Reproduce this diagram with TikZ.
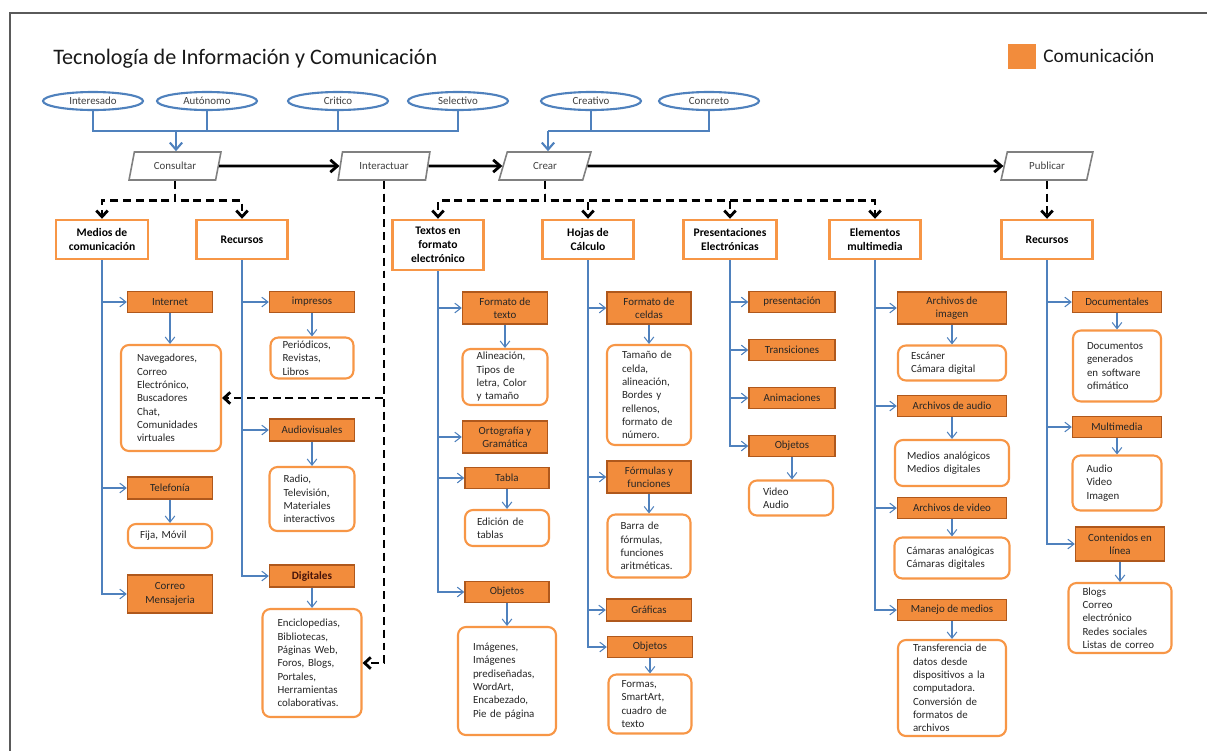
\documentclass[tikz,border=0pt]{standalone}
\usepackage{fontspec}
\setmainfont{Carlito}
\usetikzlibrary{arrows.meta,shapes.geometric}
\definecolor{bl}{RGB}{79,129,189}
\definecolor{orL}{RGB}{247,150,70}
\definecolor{orF}{RGB}{242,140,60}
\definecolor{orD}{RGB}{175,88,28}
\definecolor{frm}{RGB}{90,90,90}
\begin{document}
\begin{tikzpicture}[x=0.02cm,y=-0.02cm,
  sm/.style={font=\fontsize{6.2}{7.6}\selectfont},
  wh/.style 2 args={minimum width=#1*0.02cm, minimum height=#2*0.02cm},
  tw/.style={text width=#1*0.02cm},
  ell/.style={ellipse, draw=bl, line width=1.2pt, fill=white, wh={100}{18}, inner sep=0pt, sm, text=black!75},
  para/.style={trapezium, trapezium left angle=70, trapezium right angle=110, trapezium stretches=true, draw=gray, line width=0.9pt, fill=white, wh={92}{28}, inner sep=0pt, sm, text=black!75},
  lv/.style={draw=orL, line width=1.4pt, fill=white, font=\fontsize{6.6}{8}\selectfont\bfseries, align=center, inner sep=1pt},
  fb/.style={draw=orD, line width=0.8pt, fill=orF, sm, align=center, text=black!85, inner sep=1pt},
  rb/.style={draw=orL, line width=1.2pt, rounded corners=4.5pt, fill=white, sm, align=left, inner xsep=0pt, inner ysep=1pt, text=black!85},
  bth/.style={draw=bl, line width=0.6pt, -{Straight Barb[length=3.5pt,width=5.5pt]}},
  bthk/.style={draw=bl, line width=1.2pt},
  blk/.style={draw=black, line width=1.6pt, -{Straight Barb[length=4pt,width=7pt]}},
  dsh/.style={draw=black, line width=1.6pt, dash pattern=on 4.5pt off 2.8pt, -{Straight Barb[length=3.5pt,width=6.5pt]}}
]
\useasboundingbox (0,0) rectangle (1207,751);
\draw[frm, line width=0.9pt] (1207,13) -- (10,13) -- (10,751);

% title and legend
\node[anchor=west, inner sep=0pt, font=\fontsize{12.6}{15}\selectfont, text=black!90] (title) at (53,59) {Tecnología de Información y Comunicación};
\node[fill=orF, wh={28}{25}, inner sep=0pt] (legsq) at (1022,56) {};
\node[anchor=west, inner sep=0pt, font=\fontsize{11}{13}\selectfont, text=black!90] (legtx) at (1043,56) {Comunicación};

% ellipses
\node[ell] (interesado) at (93,101) {Interesado};
\node[ell] (autonomo) at (207,101) {Autónomo};
\node[ell] (critico) at (338,101) {Critico};
\node[ell] (selectivo) at (458,101) {Selectivo};
\node[ell] (creativo) at (591,101) {Creativo};
\node[ell] (concreto) at (709,101) {Concreto};

% parallelograms
\node[para] (consultar) at (175,166) {Consultar};
\node[para] (interactuar) at (384,166) {Interactuar};
\node[para] (crear) at (545,166) {Crear};
\node[para] (publicar) at (1047,166) {Publicar};

% level 1
\node[lv, wh={92}{39}] (medios) at (102,239.5) {Medios de\\comunicación};
\node[lv, wh={91}{39}] (recL) at (242,239.5) {Recursos};
\node[lv, wh={91}{50}] (textos) at (438,245) {Textos en\\formato\\electrónico};
\node[lv, wh={91}{39}] (hojas) at (588,239.5) {Hojas de\\Cálculo};
\node[lv, wh={93}{39}] (pres) at (730,239.5) {Presentaciones\\Electrónicas};
\node[lv, wh={91}{39}] (elem) at (875,239.5) {Elementos\\multimedia};
\node[lv, wh={91}{39}] (recR) at (1047,239.5) {Recursos};

% filled boxes
\node[fb, wh={85}{21}] (internet) at (170,302) {Internet};
\node[fb, wh={85}{22}] (telefonia) at (170,488) {Telefonía};
\node[fb, wh={85}{38}] (correo) at (170,594) {Correo\\Mensajeria};
\node[fb, wh={85}{21}] (impresos) at (312,302) {impresos};
\node[fb, wh={85}{22}] (audiov) at (312,430) {Audiovisuales};
\node[fb, wh={85}{22}, font=\fontsize{6.4}{7.6}\selectfont\bfseries, text={rgb,255:red,70;green,20;blue,10}] (digitales) at (312,576) {Digitales};
\node[fb, wh={85}{32}] (fmtxt) at (505,308) {Formato de\\texto};
\node[fb, wh={85}{32}] (orto) at (505,437) {Ortografía y\\Gramática};
\node[fb, wh={84}{21}] (tabla) at (507,478) {Tabla};
\node[fb, wh={84}{21}] (objT) at (507,592) {Objetos};
\node[fb, wh={84}{32}] (fmcel) at (649,308) {Formato de\\celdas};
\node[fb, wh={84}{32}] (formu) at (649,477) {Fórmulas y\\funciones};
\node[fb, wh={85}{22}] (graf) at (649,610) {Gráficas};
\node[fb, wh={85}{21}] (objH) at (650,647) {Objetos};
\node[fb, wh={86}{21}] (presen) at (792,302) {presentación};
\node[fb, wh={86}{21}] (trans) at (792,350) {Transiciones};
\node[fb, wh={86}{21}] (anim) at (792,398) {Animaciones};
\node[fb, wh={86}{21}] (objP) at (792,446) {Objetos};
\node[fb, wh={109}{32}] (archImg) at (952,308) {Archivos de\\imagen};
\node[fb, wh={109}{21}] (archAud) at (952,406) {Archivos de audio};
\node[fb, wh={109}{21}] (archVid) at (952,508) {Archivos de video};
\node[fb, wh={109}{21}] (manejo) at (952,610) {Manejo de medios};
\node[fb, wh={89}{21}] (docum) at (1117,302) {Documentales};
\node[fb, wh={89}{21}] (multi) at (1117,427) {Multimedia};
\node[fb, wh={89}{34}] (conten) at (1120,544) {Contenidos en\\línea};

% rounded boxes (text left aligned with a left margin)
\node[rb, wh={100}{106}, tw=68] (naveg) at (171,398) {Navegadores,\\Correo\\Electrónico,\\Buscadores\\Chat,\\Comunidades\\virtuales};
\node[rb, wh={84}{24}, tw=60] (fija) at (170,536) {Fija, Móvil};
\node[rb, wh={83}{41}, tw=59] (perio) at (312,358) {Periódicos,\\Revistas,\\Libros};
\node[rb, wh={85}{64}, tw=57] (radio) at (312,499) {Radio,\\Televisión,\\Materiales\\interactivos};
\node[rb, wh={99}{108}, tw=69] (encic) at (312,663) {Enciclopedias,\\Bibliotecas,\\Páginas Web,\\Foros, Blogs,\\Portales,\\Herramientas\\colaborativas.};
\node[rb, wh={85}{56}, tw=57] (alin) at (505,377) {Alineación,\\Tipos de\\letra, Color\\y tamaño};
\node[rb, wh={84}{36}, tw=60] (edic) at (507,528) {Edición de\\tablas};
\node[rb, wh={98}{108}, tw=68] (imag) at (507,681) {Imágenes,\\Imágenes\\prediseñadas,\\WordArt,\\Encabezado,\\Pie de página};
\node[rb, wh={84}{100}, tw=54] (taman) at (649,395) {Tamaño de\\celda,\\alineación,\\Bordes y\\rellenos,\\formato de\\número.};
\node[rb, wh={83}{63}, tw=57] (barra) at (649,546) {Barra de\\fórmulas,\\funciones\\aritméticas.};
\node[rb, wh={83}{59}, tw=57] (formas) at (650,704) {Formas,\\SmartArt,\\cuadro de\\texto};
\node[rb, wh={84}{35}, tw=56] (video) at (791,498) {Video\\Audio};
\node[rb, wh={108}{35}, tw=82] (escan) at (952,363) {Escáner\\Cámara digital};
\node[rb, wh={114}{46}, tw=90] (mediosB) at (952,463) {Medios analógicos\\Medios digitales};
\node[rb, wh={115}{41}, tw=91] (camaras) at (952,558) {Cámaras analógicas\\Cámaras digitales};
\node[rb, wh={108}{96}, tw=78] (transf) at (952,688) {Transferencia de\\datos desde\\dispositivos a la\\computadora.\\Conversión de\\formatos de\\archivos};
\node[rb, wh={88}{71}, tw=60] (docs) at (1117,366) {Documentos\\generados\\en software\\ofimático};
\node[rb, wh={89}{55}, tw=61] (audio) at (1117,483) {Audio\\Video\\Imagen};
\node[rb, wh={103}{70}, tw=75] (blogs) at (1120,618) {Blogs\\Correo\\electrónico\\Redes sociales\\Listas de correo};

% blue junctions
\coordinate (jA) at (176,131);
\coordinate (jC) at (548,131);
\draw[bthk] (interesado.south) |- (jA);
\draw[bthk] (selectivo.south) |- (jA);
\draw[bthk] (autonomo.south) -- (autonomo.south |- jA);
\draw[bthk] (critico.south) -- (critico.south |- jA);
\draw[bthk, -{Straight Barb[length=4pt,width=7pt]}] (jA) -- (jA |- consultar.north);
\draw[bthk] (creativo.south) |- (jC);
\draw[bthk] (concreto.south) |- (jC);
\draw[bthk, -{Straight Barb[length=4pt,width=7pt]}] (jC) -- (jC |- crear.north);

% main flow
\draw[blk] (consultar.east) -- (interactuar.west);
\draw[blk] (interactuar.east) -- (crear.west);
\draw[blk] (crear.east) -- (publicar.west);

% dashed
\draw[dsh] (consultar.south) -- ++(0,20) -| (medios.north);
\draw[dsh] (consultar.south) -- ++(0,20) -| (recL.north);
\draw[dsh] (crear.south) -- ++(0,20) -| (textos.north);
\draw[dsh] (crear.south) -- ++(0,20) -| (hojas.north);
\draw[dsh] (crear.south) -- ++(0,20) -| (pres.north);
\draw[dsh] (crear.south) -- ++(0,20) -| (elem.north);
\draw[dsh] (publicar.south) -- (publicar.south |- recR.north);
\draw[dsh] (interactuar.south) |- (naveg.east);
\draw[dsh] (interactuar.south) |- (encic.east);

% branches
\foreach \p/\c in {medios/internet, medios/telefonia, medios/correo,
  recL/impresos, recL/audiov, recL/digitales,
  textos/fmtxt, textos/orto, textos/tabla, textos/objT,
  hojas/fmcel, hojas/formu, hojas/graf, hojas/objH,
  pres/presen, pres/trans, pres/anim, pres/objP,
  elem/archImg, elem/archAud, elem/archVid, elem/manejo,
  recR/docum, recR/multi, recR/conten}
  \draw[bth] (\p.south) |- (\c.west);

% down arrows
\foreach \a/\b in {internet/naveg, telefonia/fija, impresos/perio, audiov/radio, digitales/encic,
  fmtxt/alin, tabla/edic, objT/imag, fmcel/taman, formu/barra, objH/formas, objP/video,
  archImg/escan, archAud/mediosB, archVid/camaras, manejo/transf,
  docum/docs, multi/audio, conten/blogs}
  \draw[bth] (\a.south) -- (\a.south |- \b.north);
\end{tikzpicture}
\end{document}
